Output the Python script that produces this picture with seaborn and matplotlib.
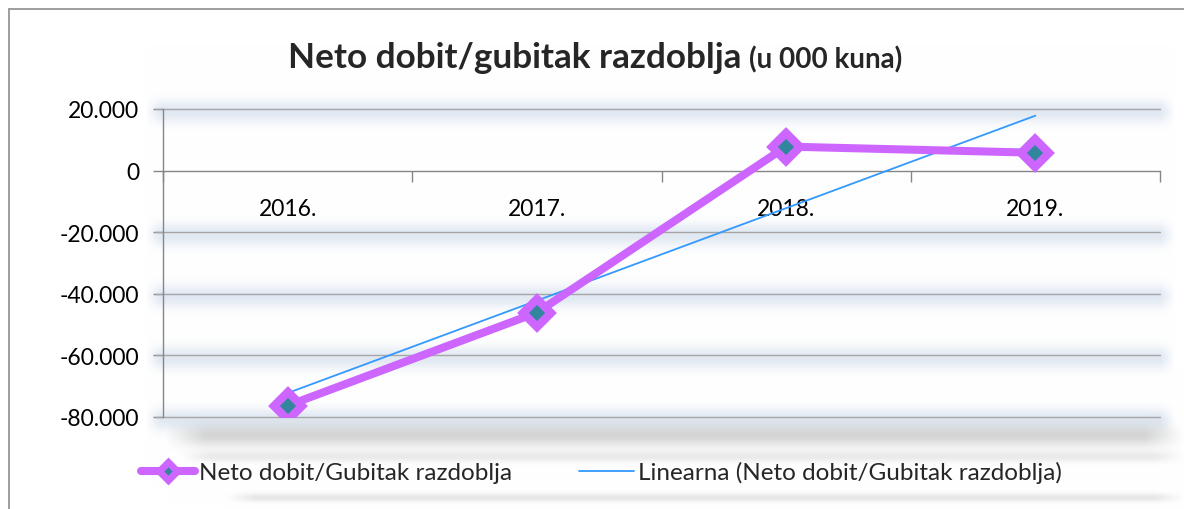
import numpy as np
import pandas as pd
import matplotlib
matplotlib.use('Agg')
import matplotlib.pyplot as plt
import seaborn as sns
from matplotlib.lines import Line2D
from matplotlib.patches import Rectangle
from matplotlib.ticker import FuncFormatter, FixedLocator

# Podaci (u 000 kuna)
godine = ['2016.', '2017.', '2018.', '2019.']
neto_dobit = [-76300, -46100, 7800, 5800]
y_ticks = [-80000, -60000, -40000, -20000, 0, 20000]

naziv_serije = 'Neto dobit/Gubitak razdoblja'
naziv_trenda = 'Linearna (Neto dobit/Gubitak razdoblja)'

df = pd.DataFrame({'pos': np.arange(len(godine)), 'Godina': godine, 'Vrijednost': neto_dobit})

sns.set_theme(style='white')
plt.rcParams['font.family'] = ['Lato', 'DejaVu Sans']

ljubicasta = '#CC66FF'
tirkizna = '#31859C'
plava = '#3399FF'

W, H = 1184, 510
fig = plt.figure(figsize=(W / 100, H / 100), dpi=100)
ax = fig.add_axes([163 / W, 1 - 418 / H, (1160 - 163) / W, (418 - 110) / H], zorder=2)
ax.set_xlim(-0.5, len(godine) - 0.5)
ax.set_ylim(-80000, 20000)

# pozadina sa sjenama (samo ukras)
yy, xx = np.mgrid[0:H, 0:W].astype(float)
slika = np.ones((H, W, 3))


def sjena(y_px, sigma, x0, x1, boja, alfa, rub=12):
    global slika
    a = alfa * np.exp(-0.5 * ((yy - y_px) / sigma) ** 2)
    a *= np.clip((xx - x0) / rub, 0, 1) * np.clip((x1 - xx) / rub, 0, 1)
    b = np.array(boja) / 255.0
    slika = slika * (1 - a[..., None]) + b * a[..., None]


for yv in [20000, -20000, -40000, -60000, -80000]:
    y_px = H - ax.transData.transform((0, yv))[1]
    sjena(y_px + 2, 8, 145, 1175, (200, 214, 232), 0.55, rub=15)

sjena(436, 8, 165, 1184, (165, 165, 165), 0.45, rub=40)
sjena(457, 4, 180, 1184, (175, 175, 175), 0.25, rub=30)
sjena(498, 3, 225, 1184, (175, 175, 175), 0.3, rub=30)

pozadina = fig.add_axes([0, 0, 1, 1], zorder=0)
pozadina.imshow(slika, extent=(0, W, H, 0), aspect='auto', interpolation='bilinear')
pozadina.axis('off')

# okvir grafikona (vidi se samo lijevo i gore)
fig.patches.append(Rectangle((9 / W, -0.1), 1.2, 1 - 10 / H + 0.1, transform=fig.transFigure,
                             fill=False, edgecolor='#8C8C8C', lw=1.2, zorder=3))

# linije mreže
for yv in [20000, -20000, -40000, -60000, -80000]:
    ax.axhline(yv, xmin=-0.008, xmax=1, color='#A6A6A6', lw=1, clip_on=False, zorder=1)

# linearni trend
sns.regplot(data=df, x='pos', y='Vrijednost', scatter=False, ci=None, truncate=True,
            line_kws={'color': plava, 'lw': 1.3, 'zorder': 3}, ax=ax)

# glavna serija
sns.lineplot(data=df, x='pos', y='Vrijednost', color=ljubicasta, lw=5.8, marker='D',
             markersize=14, markerfacecolor=tirkizna, markeredgecolor=ljubicasta,
             markeredgewidth=6, ax=ax, zorder=4)
for ln in ax.lines:
    ln.set_solid_joinstyle('round')
    ln.set_solid_capstyle('round')

ax.set_xlim(-0.5, len(godine) - 0.5)
ax.set_ylim(-80000, 20000)
ax.set_yticks(y_ticks)
ax.yaxis.set_major_formatter(FuncFormatter(lambda v, p: f'{v:,.0f}'.replace(',', '.')))
ax.tick_params(axis='y', labelsize=16.5, length=7, width=1, color='#868686', direction='out',
               left=True, pad=10, labelcolor='black')

ax.spines['bottom'].set_position(('data', 0))
for s in ['top', 'right']:
    ax.spines[s].set_visible(False)
ax.spines['left'].set_color('#868686')
ax.spines['bottom'].set_color('#868686')
ax.spines['left'].set_linewidth(1)
ax.spines['bottom'].set_linewidth(1)

ax.set_xticks(df['pos'])
ax.set_xticklabels(godine)
ax.xaxis.set_minor_locator(FixedLocator(np.arange(-0.5, len(godine), 1.0)))
ax.tick_params(axis='x', which='major', length=0, pad=20, labelsize=16.5, labelcolor='black')
ax.tick_params(axis='x', which='minor', length=8, width=1, color='#868686', direction='out', bottom=True)
ax.set_xlabel('')
ax.set_ylabel('')
ax.set_facecolor('none')

# naslov
fig.text(741 / W, 1 - 68 / H, 'Neto dobit/gubitak razdoblja', ha='right', va='baseline',
         fontsize=25.3, fontweight='bold', zorder=3)
fig.text(749 / W, 1 - 68 / H, '(u 000 kuna)', ha='left', va='baseline',
         fontsize=20, fontweight='bold', zorder=3)

# legenda
h1 = Line2D([], [], color=ljubicasta, lw=5.8, marker='D', markersize=9, markerfacecolor=tirkizna,
            markeredgecolor=ljubicasta, markeredgewidth=5, solid_capstyle='round')
h2 = Line2D([], [], color=plava, lw=1.3)
leg = fig.legend([h1, h2], [naziv_serije, naziv_trenda], loc='center', bbox_to_anchor=(601 / W, 1 - 473 / H),
                 ncol=2, frameon=False, fontsize=17.5, handlelength=2.26, handletextpad=0.15,
                 columnspacing=2.75)
leg.set_zorder(3)

fig.savefig('out.png', dpi=100)
